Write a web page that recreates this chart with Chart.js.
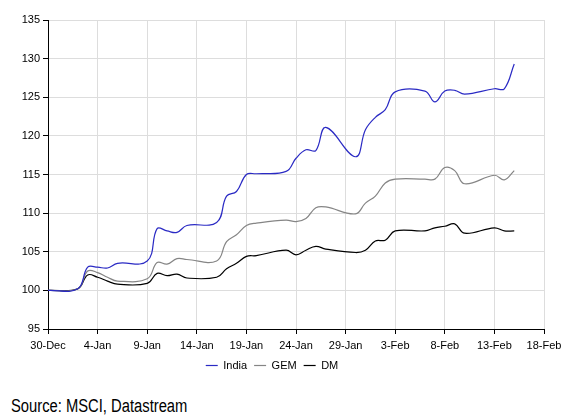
<!DOCTYPE html>
<html>
<head>
<meta charset="utf-8">
<script src="https://cdn.jsdelivr.net/npm/chart.js@4"></script>
<style>
  body { margin: 0; background: #fff; }
  #wrap { position: relative; width: 571px; height: 420px; }
  #box { position: absolute; left: 0; top: 0; width: 571px; height: 385px; }
  #source {
    position: absolute; left: 11px; top: 396px;
    font-family: 'Liberation Sans', Arial, sans-serif;
    font-size: 18px; color: #000;
    transform: scaleX(0.82); transform-origin: left top;
    white-space: nowrap;
  }
</style>
</head>
<body>
<div id="wrap">
  <div id="box"><canvas id="perf-chart"></canvas></div>
  <div id="source">Source: MSCI, Datastream</div>
</div>
<script>
 /*-------------------
 Data
 -------------------*/
 // days since 30-Dec (trading days only)
 const days = [0, 3, 4, 5, 6, 7, 10, 11, 12, 13, 14, 17, 18, 19, 20, 21, 24, 25, 26, 27, 28,
   31, 32, 33, 34, 35, 38, 39, 40, 41, 42, 45, 46, 47];

 const india = [100, 100.2, 103.0, 103.0, 102.9, 103.5, 103.8, 108.0, 107.7, 107.5, 108.4,
   108.8, 112.2, 112.8, 115.0, 115.1, 115.4, 117.1, 118.2, 118.1, 121.1,
   117.3, 120.8, 122.4, 123.4, 125.7, 125.8, 124.4, 125.8, 125.9, 125.4, 126.1, 126.1, 129.3];

 const gem = [100, 100.2, 102.5, 102.3, 101.7, 101.2, 101.5, 103.6, 103.4, 104.1, 104.0,
   103.8, 106.3, 107.2, 108.4, 108.7, 109.1, 108.9, 109.3, 110.7, 110.8,
   109.9, 111.3, 112.2, 113.9, 114.4, 114.4, 114.4, 115.9, 115.5, 113.8, 114.9, 114.3, 115.5];

 const dm = [100, 100.2, 102.0, 101.7, 101.2, 100.8, 100.9, 102.2, 101.9, 102.1, 101.6,
   101.7, 102.8, 103.5, 104.4, 104.5, 105.2, 104.6, 105.2, 105.7, 105.35,
   104.9, 105.2, 106.4, 106.5, 107.7, 107.7, 108.1, 108.3, 108.6, 107.4, 108.1, 107.7, 107.7];

 const tickLabels = ['30-Dec', '4-Jan', '9-Jan', '14-Jan', '19-Jan', '24-Jan', '29-Jan',
   '3-Feb', '8-Feb', '13-Feb', '18-Feb'];

 const toPoints = (vals) => vals.map((v, i) => ({ x: days[i], y: v }));

 /*-------------------
 Chart
 -------------------*/
 Chart.defaults.font.family = "'Liberation Sans', Arial, sans-serif";
 Chart.defaults.font.size = 11;
 Chart.defaults.color = '#000';

 const perfCanvas = document.getElementById('perf-chart');

 const perfData = {
   datasets: [
     { label: 'India', data: toPoints(india), borderColor: '#2a2ac4', backgroundColor: '#1c1c9c' },
     { label: 'GEM', data: toPoints(gem), borderColor: '#858585', backgroundColor: '#858585' },
     { label: 'DM', data: toPoints(dm), borderColor: '#000', backgroundColor: '#000' }
   ].map(d => Object.assign(d, {
     borderWidth: 1.2,
     pointRadius: 0,
     pointStyle: 'line',
     tension: 0.4,
     fill: false
   }))
 };

 const perfOptions = {
   responsive: true,
   maintainAspectRatio: false,
   animation: false,
   layout: { padding: { left: 0, top: 20, right: 27, bottom: 4 } },
   scales: {
     x: {
       type: 'linear',
       min: 0,
       max: 50,
       ticks: { stepSize: 5, maxRotation: 0, padding: 5, callback: (v) => tickLabels[v / 5] },
       grid: { color: '#dddddd', tickColor: '#000', tickLength: 5 },
       border: { color: '#000' },
       afterFit: (scale) => { scale.height = 24; }
     },
     y: {
       min: 95,
       max: 135,
       ticks: { stepSize: 5, padding: 3 },
       grid: { color: '#dddddd', tickColor: '#000', tickLength: 5 },
       border: { color: '#000' },
       afterFit: (scale) => { scale.width = 48; }
     }
   },
   plugins: {
     legend: {
       position: 'bottom',
       labels: { usePointStyle: true, pointStyleWidth: 12, boxHeight: 1, padding: 7 }
     },
     tooltip: { enabled: false }
   }
 };

 let perfChart = new Chart(perfCanvas, {
   type: 'line',
   data: perfData,
   options: perfOptions
 });
</script>
</body>
</html>
